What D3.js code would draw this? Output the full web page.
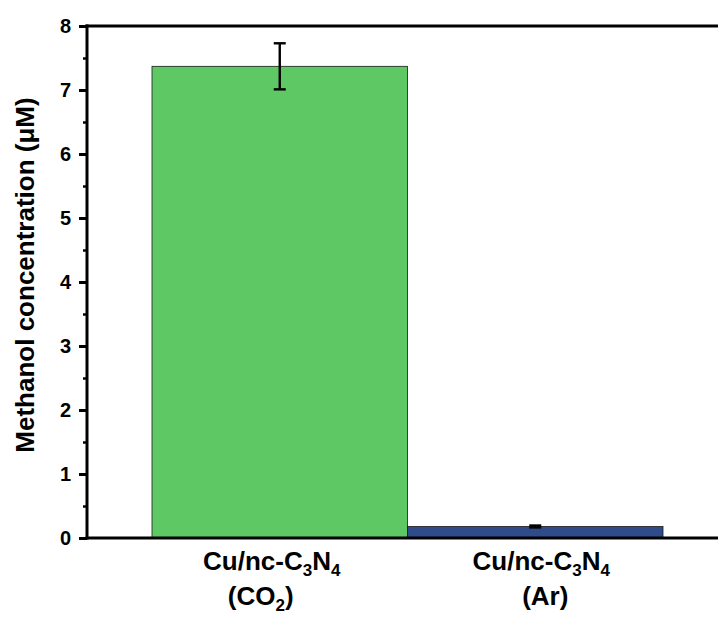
<!DOCTYPE html>
<html>
<head>
<meta charset="utf-8">
<script src="https://cdn.jsdelivr.net/npm/d3@7"></script>
<style>
  html, body { margin: 0; padding: 0; background: #fff; }
  svg { display: block; font-family: "Liberation Sans", Arial, sans-serif; }
</style>
</head>
<body>
<svg id="chart" width="718" height="619"></svg>
<script>
// Methanol produced by Cu/nc-C3N4 under CO2 vs. Ar atmosphere
const categories = ["co2", "ar"];
const labelMain = ["Cu/nc-C", "Cu/nc-C"];
const labelGas = ["CO2", "Ar"];
const values = [7.37, 0.18];
const errors = [0.36, 0.015];
const colors = ["#5dc864", "#2f4b8a"];
const yTicks = [0, 1, 2, 3, 4, 5, 6, 7, 8];
const yMinorTicks = [0.5, 1.5, 2.5, 3.5, 4.5, 5.5, 6.5, 7.5];

const svg = d3.select("#chart");
const W = 718, H = 619;
const axisX = 87, topY = 26, baseY = 538;
// horizontal nudges of the two-line category labels (line 1, line 2)
const labelNudge = [[-8, -19], [6, 10]];

const y = d3.scaleLinear().domain([0, 8]).range([baseY, topY]);
const x = d3.scaleBand().domain(categories).range([152, 663]).padding(0);

// bars
svg.selectAll("rect.bar").data(categories).enter().append("rect")
  .attr("class", "bar")
  .attr("x", d => x(d))
  .attr("width", x.bandwidth())
  .attr("y", (d, i) => y(values[i]))
  .attr("height", (d, i) => y(0) - y(values[i]))
  .attr("fill", (d, i) => colors[i])
  .attr("stroke", "#1a1a1a")
  .attr("stroke-width", 0.8);

// error bars
const capW = 12;
const eg = svg.selectAll("g.err").data(categories).enter().append("g").attr("class", "err")
  .attr("stroke", "#000").attr("stroke-width", 2.4);
eg.append("line")
  .attr("x1", d => x(d) + x.bandwidth() / 2).attr("x2", d => x(d) + x.bandwidth() / 2)
  .attr("y1", (d, i) => y(values[i] + errors[i])).attr("y2", (d, i) => y(values[i] - errors[i]));
eg.append("line")
  .attr("x1", d => x(d) + x.bandwidth() / 2 - capW / 2).attr("x2", d => x(d) + x.bandwidth() / 2 + capW / 2)
  .attr("y1", (d, i) => y(values[i] + errors[i])).attr("y2", (d, i) => y(values[i] + errors[i]));
eg.append("line")
  .attr("x1", d => x(d) + x.bandwidth() / 2 - capW / 2).attr("x2", d => x(d) + x.bandwidth() / 2 + capW / 2)
  .attr("y1", (d, i) => y(values[i] - errors[i])).attr("y2", (d, i) => y(values[i] - errors[i]));

// y axis with major ticks
const yAxis = d3.axisLeft(y).tickValues(yTicks).tickSize(8).tickPadding(8).tickFormat(d3.format("d"));
const ga = svg.append("g").attr("transform", `translate(${axisX},0)`).call(yAxis);
ga.select(".domain").remove();
ga.selectAll(".tick line").attr("stroke", "#000").attr("stroke-width", 3);
ga.selectAll(".tick text").attr("font-size", 20).attr("font-weight", "bold").attr("fill", "#000")
  .attr("font-family", "Liberation Sans, Arial, sans-serif");

// minor ticks
const gm = svg.append("g").attr("transform", `translate(${axisX},0)`)
  .call(d3.axisLeft(y).tickValues(yMinorTicks).tickSize(4).tickFormat(""));
gm.select(".domain").remove();
gm.selectAll(".tick line").attr("stroke", "#000").attr("stroke-width", 2.5);

// frame lines
svg.append("line").attr("x1", axisX).attr("x2", axisX).attr("y1", topY - 1.5).attr("y2", baseY + 1.5)
  .attr("stroke", "#000").attr("stroke-width", 3);
svg.append("line").attr("x1", axisX - 1.5).attr("x2", W).attr("y1", baseY).attr("y2", baseY)
  .attr("stroke", "#000").attr("stroke-width", 3);
svg.append("line").attr("x1", axisX - 1.5).attr("x2", W).attr("y1", topY).attr("y2", topY)
  .attr("stroke", "#000").attr("stroke-width", 3);

// category labels
const lab = svg.selectAll("g.lab").data(categories).enter().append("g").attr("class", "lab")
  .attr("font-size", 26).attr("font-weight", "bold").attr("fill", "#000").attr("text-anchor", "middle");
lab.each(function(d, i) {
  const cx = x(d) + x.bandwidth() / 2;
  const g = d3.select(this);
  const t1 = g.append("text").attr("x", cx + labelNudge[i][0]).attr("y", 570);
  t1.append("tspan").text(labelMain[i]);
  t1.append("tspan").text("3").attr("font-size", 17).attr("dy", 6);
  t1.append("tspan").text("N").attr("dy", -6);
  t1.append("tspan").text("4").attr("font-size", 17).attr("dy", 6);
  const t2 = g.append("text").attr("x", cx + labelNudge[i][1]).attr("y", 605);
  if (labelGas[i] === "CO2") {
    t2.append("tspan").text("(CO");
    t2.append("tspan").text("2").attr("font-size", 17).attr("dy", 6);
    t2.append("tspan").text(")").attr("dy", -6);
  } else {
    t2.text("(" + labelGas[i] + ")");
  }
});

// y axis title
svg.append("text")
  .attr("transform", `translate(34,275) rotate(-90)`)
  .attr("text-anchor", "middle")
  .attr("font-size", 26).attr("font-weight", "bold").attr("fill", "#000")
  .text("Methanol concentration (μM)");
</script>
</body>
</html>
